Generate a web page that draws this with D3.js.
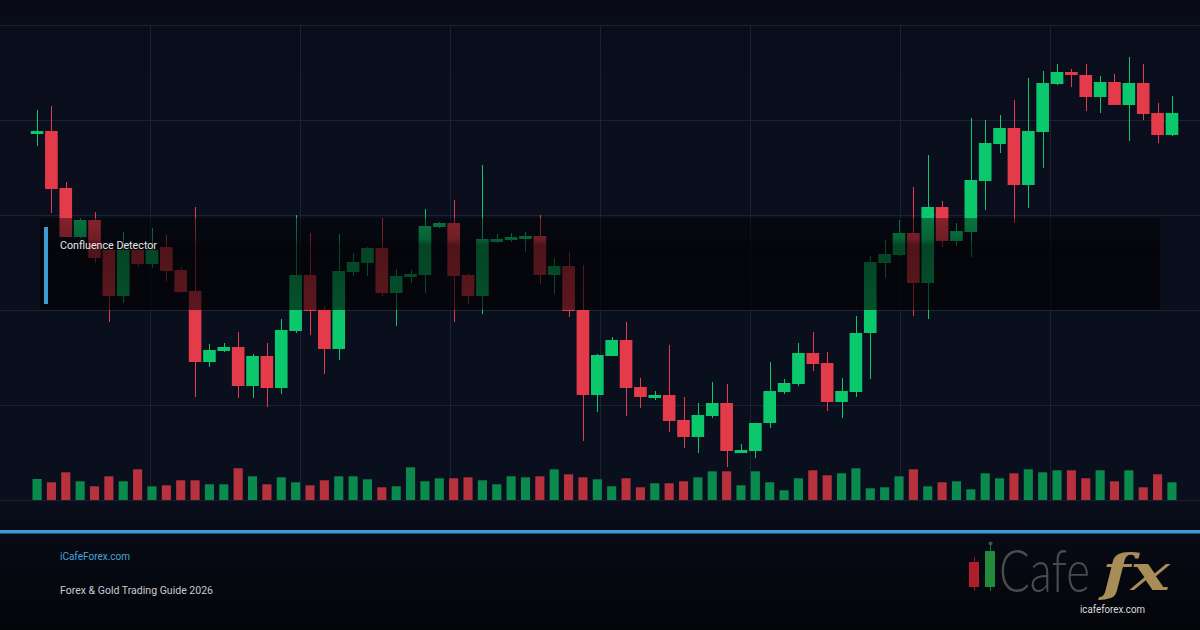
<!DOCTYPE html>
<html>
<head>
<meta charset="utf-8">
<script src="https://cdn.jsdelivr.net/npm/d3@7"></script>
<style>
  html, body { margin: 0; padding: 0; background: #070a14; }
  #chart { width: 1200px; height: 630px; }
</style>
</head>
<body>
<div id="chart"></div>
<script>
// OHLC values, one entry per candle
const opens  = [2366,2369,2312,2263,2280,2250,2204,2250,2236,2253,2230,2209,2138,2149,2153,2114,2144,2112,2169,2225,
                2190,2151,2228,2237,2252,2207,2223,2225,2273,2277,2225,2204,2258,2260,2261,2264,2225,2234,2190,2105,
                2144,2160,2113,2102,2105,2080,2063,2084,2097,2047,2049,2077,2108,2116,2147,2137,2098,2108,2167,2237,
                2245,2267,2217,2293,2259,2268,2319,2356,2372,2315,2368,2416,2428,2425,2403,2418,2395,2417,2387,2365];
const closes = [2369,2311,2263,2280,2242,2204,2250,2236,2250,2229,2208,2138,2150,2153,2114,2144,2112,2170,2225,2189,
                2151,2229,2238,2252,2207,2224,2226,2274,2277,2224,2204,2261,2261,2263,2264,2225,2234,2189,2105,2145,
                2160,2112,2103,2105,2079,2063,2085,2097,2049,2050,2077,2109,2117,2147,2136,2098,2109,2167,2238,2246,
                2267,2217,2293,2259,2269,2320,2357,2372,2315,2369,2417,2428,2425,2403,2418,2395,2417,2386,2365,2387];
const highs  = [2390,2394,2318,2282,2288,2251,2268,2251,2272,2265,2233,2293,2156,2157,2168,2146,2157,2181,2285,2267,
                2193,2266,2247,2253,2282,2231,2230,2291,2278,2300,2227,2335,2266,2267,2268,2285,2242,2248,2235,2146,
                2163,2178,2122,2109,2155,2103,2097,2118,2116,2056,2077,2138,2121,2157,2168,2148,2122,2184,2244,2260,
                2280,2313,2345,2299,2277,2382,2380,2385,2400,2422,2429,2436,2431,2436,2424,2426,2443,2436,2397,2404];
const lows   = [2354,2287,2263,2262,2237,2178,2197,2233,2232,2219,2207,2103,2133,2148,2102,2102,2093,2106,2167,2165,
                2126,2140,2224,2224,2204,2174,2217,2207,2272,2178,2196,2186,2257,2258,2248,2216,2206,2183,2059,2088,
                2144,2084,2092,2100,2068,2052,2047,2082,2033,2047,2042,2072,2106,2114,2129,2089,2082,2103,2121,2222,
                2244,2184,2181,2253,2254,2243,2290,2347,2277,2292,2332,2415,2413,2389,2387,2395,2359,2380,2357,2364];
const volumes = [2100,1770,2770,1870,1370,2370,1870,3070,1370,1470,1970,1970,1570,1570,3170,2370,1570,2270,1770,1470,
                 1970,2370,2370,2070,1270,1370,3270,1870,2170,2170,2270,1970,1570,2370,2270,2370,3070,2570,2270,2070,
                 1370,2170,1270,1670,1670,1870,2270,2870,2870,1470,2870,1770, 970,2170,2970,2470,2670,3170,1170,1270,
                 2370,3070,1370,1770,1870,1070,2670,2170,2670,3070,2770,2970,2970,2170,2970,1870,2970,1270,2570,1770];

const zoneLabel = "Confluence Detector";
const siteName = "iCafeForex.com";
const guideTitle = "Forex & Gold Trading Guide 2026";
const logoUrl = "icafeforex.com";

const candles = opens.map((o, i) => ({ i, o, c: closes[i], h: highs[i], l: lows[i], v: volumes[i] }));

const width = 1200, height = 630;
const up = "#0cc86c", down = "#e43b4a";
const upVol = "#0b8a4e", downVol = "#b8323e";

const svg = d3.select("#chart")
    .append("svg")
    .attr("width", width)
    .attr("height", height);

const defs = svg.append("defs");

// page background
const bg = defs.append("linearGradient").attr("id", "bg").attr("x1", 0).attr("y1", 0).attr("x2", 0).attr("y2", 1);
bg.append("stop").attr("offset", "0%").attr("stop-color", "#070a14");
bg.append("stop").attr("offset", "5%").attr("stop-color", "#0a0e1c");
bg.append("stop").attr("offset", "78%").attr("stop-color", "#0a0f1e");
bg.append("stop").attr("offset", "84%").attr("stop-color", "#080b16");
bg.append("stop").attr("offset", "100%").attr("stop-color", "#030509");

// dark band over the zone
const zone = defs.append("linearGradient").attr("id", "zone").attr("x1", 0).attr("y1", 0).attr("x2", 0).attr("y2", 1);
zone.append("stop").attr("offset", "0%").attr("stop-color", "#000").attr("stop-opacity", 0.42);
zone.append("stop").attr("offset", "22%").attr("stop-color", "#000").attr("stop-opacity", 0.5);
zone.append("stop").attr("offset", "30%").attr("stop-color", "#000").attr("stop-opacity", 0.66);
zone.append("stop").attr("offset", "100%").attr("stop-color", "#000").attr("stop-opacity", 0.6);

svg.append("rect").attr("width", width).attr("height", height).attr("fill", "url(#bg)");

const x = d3.scaleBand()
    .domain(candles.map(d => d.i))
    .range([29, 1180])
    .padding(0.12);

const y = d3.scaleLinear()
    .domain([2000, 2475])
    .range([500, 25]);

const yVol = d3.scaleLinear()
    .domain([0, 4000])
    .range([500, 460]);

// grid
const grid = svg.append("g").attr("stroke", "#1b2234").attr("stroke-width", 1);
grid.selectAll("line.h")
    .data(d3.range(2000, 2476, 95))
    .join("line")
    .attr("class", "h")
    .attr("x1", 0).attr("x2", width)
    .attr("y1", d => Math.round(y(d)) + 0.5)
    .attr("y2", d => Math.round(y(d)) + 0.5);
grid.selectAll("line.v")
    .data(d3.range(150, width, 150))
    .join("line")
    .attr("class", "v")
    .attr("x1", d => d + 0.5).attr("x2", d => d + 0.5)
    .attr("y1", y(2475)).attr("y2", y(2000));

// volume bars
const vw = x.bandwidth() * 0.72;
svg.append("g")
    .selectAll("rect")
    .data(candles)
    .join("rect")
    .attr("x", d => x(d.i) + (x.bandwidth() - vw) / 2)
    .attr("y", d => yVol(d.v))
    .attr("width", vw)
    .attr("height", d => yVol(0) - yVol(d.v))
    .attr("fill", d => d.c >= d.o ? upVol : downVol);

// candles
const cg = svg.append("g")
    .selectAll("g")
    .data(candles)
    .join("g");

cg.append("line")
    .attr("x1", d => Math.round(x(d.i) + x.bandwidth() / 2) + 0.5)
    .attr("x2", d => Math.round(x(d.i) + x.bandwidth() / 2) + 0.5)
    .attr("y1", d => y(d.h))
    .attr("y2", d => y(d.l))
    .attr("stroke", d => d.c >= d.o ? up : down)
    .attr("stroke-width", 1);

cg.append("rect")
    .attr("x", d => x(d.i))
    .attr("y", d => y(Math.max(d.o, d.c)))
    .attr("width", x.bandwidth())
    .attr("height", d => Math.max(2, Math.abs(y(d.o) - y(d.c))))
    .attr("fill", d => d.c >= d.o ? up : down);

// confluence zone
svg.append("rect")
    .attr("x", 40).attr("y", 218)
    .attr("width", 1120).attr("height", 92)
    .attr("fill", "url(#zone)");

svg.append("rect")
    .attr("x", 44).attr("y", 227)
    .attr("width", 4).attr("height", 77)
    .attr("fill", "#3d9bd6");

svg.append("text")
    .attr("x", 60).attr("y", 249)
    .attr("font-family", "Roboto, sans-serif")
    .attr("font-size", 11)
    .attr("fill", "#e6e8ec")
    .attr("textLength", 97)
    .attr("lengthAdjust", "spacingAndGlyphs")
    .text(zoneLabel);

// footer
svg.append("rect")
    .attr("x", 0).attr("y", 530)
    .attr("width", width).attr("height", 3.5)
    .attr("fill", "#3d9bd6");

svg.append("text")
    .attr("x", 60).attr("y", 560)
    .attr("font-family", "Roboto, sans-serif")
    .attr("font-size", 10.5)
    .attr("fill", "#4ba3dc")
    .attr("textLength", 70)
    .attr("lengthAdjust", "spacingAndGlyphs")
    .text(siteName);

svg.append("text")
    .attr("x", 60).attr("y", 594)
    .attr("font-family", "Roboto, sans-serif")
    .attr("font-size", 10.5)
    .attr("fill", "#c9cbd0")
    .attr("textLength", 153)
    .attr("lengthAdjust", "spacingAndGlyphs")
    .text(guideTitle);

// logo
const logo = svg.append("g");
logo.append("line").attr("x1", 974.5).attr("x2", 974.5).attr("y1", 557).attr("y2", 591).attr("stroke", "#8a1a24");
logo.append("rect").attr("x", 969).attr("y", 562).attr("width", 10).attr("height", 25).attr("fill", "#b01d2b");
logo.append("line").attr("x1", 990.5).attr("x2", 990.5).attr("y1", 545).attr("y2", 591).attr("stroke", "#1a6e32");
logo.append("circle").attr("cx", 990.5).attr("cy", 543.5).attr("r", 2).attr("fill", "#3a5a40");
logo.append("rect").attr("x", 985).attr("y", 551).attr("width", 10).attr("height", 36).attr("fill", "#1f8b3b");

// squeeze a word horizontally to a given width
function fitWord(sel, x0, y0, w) {
    const len = sel.node().getComputedTextLength() || w;
    sel.attr("transform", `translate(${x0},${y0}) scale(${w / len},1)`);
}

const cafe = logo.append("text")
    .attr("font-family", "Lato, 'Open Sans', sans-serif")
    .attr("font-weight", 300)
    .attr("font-size", 60)
    .attr("fill", "#4b4b4d")
    .text("Cafe");
fitWord(cafe, 999, 592, 91);

const fx = logo.append("text")
    .attr("font-family", "'DejaVu Serif', serif")
    .attr("font-style", "italic")
    .attr("font-weight", "bold")
    .attr("font-size", 50)
    .attr("fill", "#a98d57")
    .text("fx");
fitWord(fx, 1102, 590, 68);

logo.append("text")
    .attr("x", 1080).attr("y", 613)
    .attr("font-family", "Roboto, sans-serif")
    .attr("font-size", 10)
    .attr("fill", "#dcdcdc")
    .attr("textLength", 65)
    .attr("lengthAdjust", "spacingAndGlyphs")
    .text(logoUrl);
</script>
</body>
</html>
